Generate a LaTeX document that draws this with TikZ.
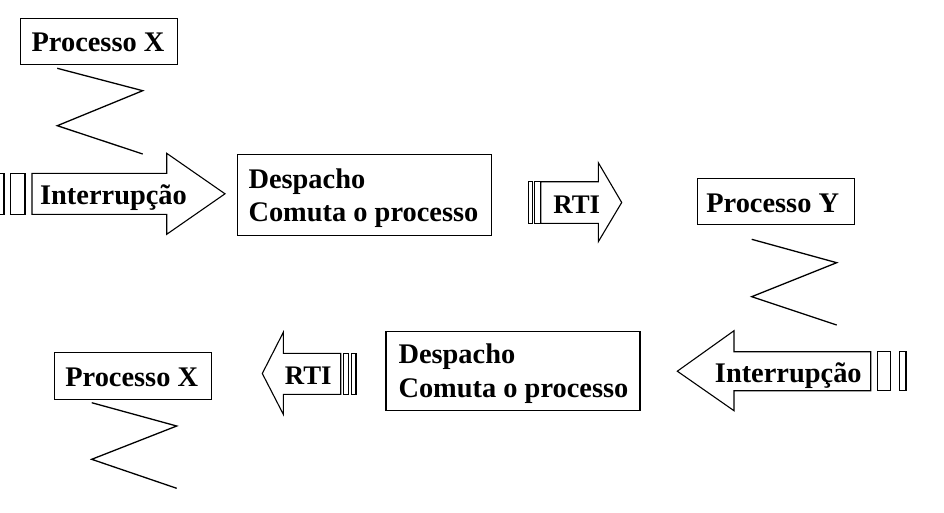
\documentclass[tikz,border=0pt]{standalone}
\usepackage{fontspec}
\setmainfont{Liberation Serif}
\begin{document}
\begin{tikzpicture}[x=1pt,y=-1pt,
  box/.style={draw,line width=1.1pt,rectangle,inner sep=0pt,fill=white},
  lbl/.style={anchor=base,inner sep=0pt,font=\bfseries\fontsize{28.4}{34}\selectfont},
  lblw/.style={anchor=base west,inner sep=0pt,font=\bfseries\fontsize{28.4}{34}\selectfont},
  shp/.style={draw,line width=1.1pt,line join=miter,fill=white},
  zz/.style={draw,line width=1.3pt,line join=miter}]
\useasboundingbox (0,0) rectangle (944,512);

% ---- Processo X (top) ----
\node[box,minimum width=156.6pt,minimum height=46pt] (px1) at (99,41.3) {};
\node[lbl] (px1t) at (98,51.5) {Processo X};
\draw[zz] (57.3,68.3) -- (142.7,90.7) -- (57.3,125.7) -- (142.7,154);

% ---- Interrupcao arrow (top, right pointing) ----
\draw[shp] (-1,173.3) rectangle (4,214.3);
\draw[shp] (10.7,173.3) rectangle (25,214.3);
\draw[shp] (32,173.3) -- (166.7,173.3) -- (166.7,153.3) -- (225,193.8) -- (166.7,234.3) -- (166.7,214.3) -- (32,214.3) -- cycle;
\node[lbl] (int1) at (113.5,204.5) {Interrupção};

% ---- Despacho box (top) ----
\node[box,minimum width=253.7pt,minimum height=80.7pt] (d1) at (364.2,194.7) {};
\node[lblw] (d1a) at (248.3,188) {Despacho};
\node[lblw] (d1b) at (248.3,221.3) {Comuta o processo};

% ---- RTI arrow (top, right pointing) ----
\draw[shp] (528.3,181.7) rectangle (532.7,223.3);
\draw[shp] (534.5,181.7) rectangle (540.7,223.3);
\draw[shp] (540.7,181.7) -- (598.3,181.7) -- (598.3,162.7) -- (621.7,202.5) -- (598.3,241.7) -- (598.3,223.3) -- (540.7,223.3) -- cycle;
\node[lbl,font=\bfseries\fontsize{26.8}{32}\selectfont] (rti1) at (576.7,213) {RTI};

% ---- Processo Y ----
\node[box,minimum width=156.7pt,minimum height=45.7pt] (py) at (775.7,201.2) {};
\node[lbl] (pyt) at (772.7,212) {Processo Y};
\draw[zz] (751.7,239.3) -- (836.7,262.7) -- (751.7,296.7) -- (836.7,325);

% ---- Interrupcao arrow (bottom, left pointing) ----
\draw[shp] (877.3,351.7) rectangle (890.7,390.7);
\draw[shp] (899.3,351.7) rectangle (906,390.7);
\draw[shp] (870.7,351.7) -- (734,351.7) -- (734,330.7) -- (677.3,371.2) -- (734,410.7) -- (734,390.7) -- (870.7,390.7) -- cycle;
\node[lbl] (int2) at (788.3,382) {Interrupção};

% ---- Despacho box (bottom) ----
\node[box,minimum width=254pt,minimum height=79pt] (d2) at (513,371.2) {};
\node[lblw] (d2a) at (398.3,363.5) {Despacho};
\node[lblw] (d2b) at (398.3,397.5) {Comuta o processo};

% ---- RTI arrow (bottom, left pointing) ----
\draw[shp] (343.3,353.3) rectangle (348.3,394.3);
\draw[shp] (351.7,353.3) rectangle (356,394.3);
\draw[shp] (340.7,353.3) -- (283.3,353.3) -- (283.3,332.3) -- (262.3,373.5) -- (283.3,414.3) -- (283.3,394.3) -- (340.7,394.3) -- cycle;
\node[lbl,font=\bfseries\fontsize{26.8}{32}\selectfont] (rti2) at (308.3,384.5) {RTI};

% ---- Processo X (bottom) ----
\node[box,minimum width=157.4pt,minimum height=46.6pt] (px2) at (133,376) {};
\node[lbl] (px2t) at (131.7,386.8) {Processo X};
\draw[zz] (91.7,402.7) -- (176.7,426) -- (91.7,459.3) -- (176.7,488.3);
\end{tikzpicture}
\end{document}
